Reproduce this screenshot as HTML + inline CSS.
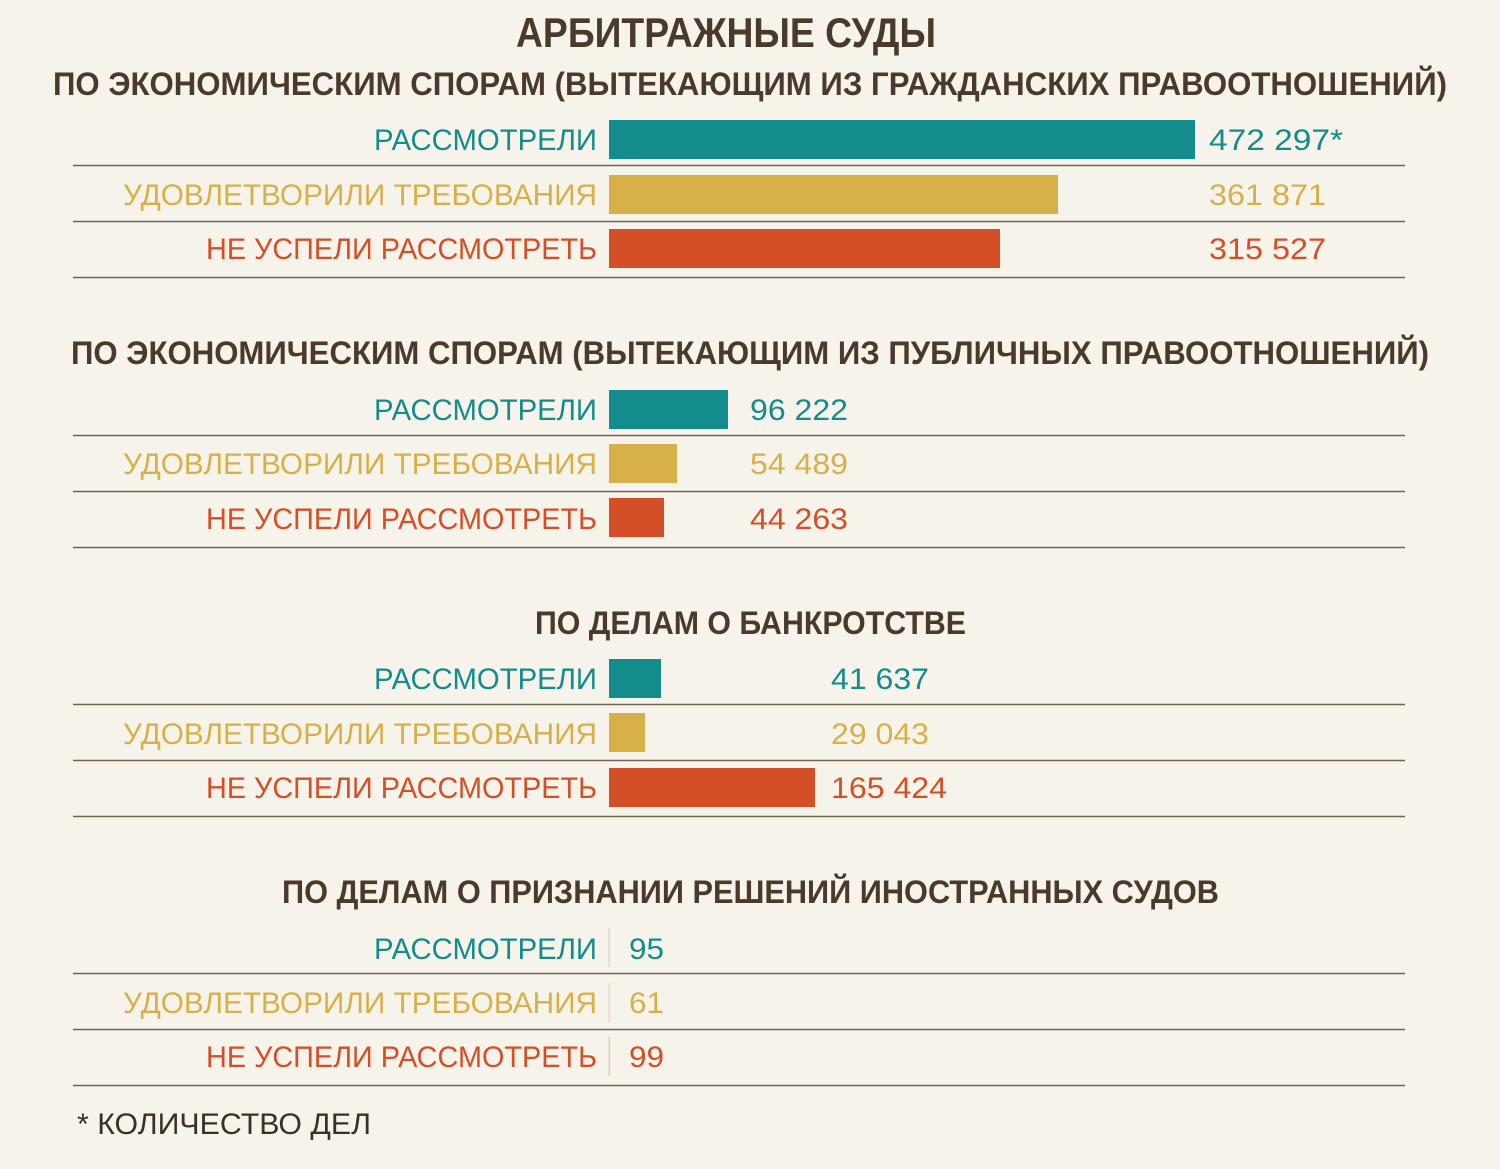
<!DOCTYPE html>
<html><head><meta charset="utf-8"><style>html,body{margin:0;padding:0;background:#f6f3eb}svg{display:block}</style></head><body>
<svg width="1500" height="1169" viewBox="0 0 1500 1169" xmlns="http://www.w3.org/2000/svg" font-family="Liberation Sans, DejaVu Sans, sans-serif">
<rect width="1500" height="1169" fill="#f6f3eb"/>
<g fill="#4a3a2c" font-weight="bold">
<text x="516" y="47" font-size="42" textLength="420" lengthAdjust="spacingAndGlyphs">АРБИТРАЖНЫЕ СУДЫ</text>
<text x="53" y="95" font-size="32" textLength="1394" lengthAdjust="spacingAndGlyphs">ПО ЭКОНОМИЧЕСКИМ СПОРАМ (ВЫТЕКАЮЩИМ ИЗ ГРАЖДАНСКИХ ПРАВООТНОШЕНИЙ)</text>
<text x="71" y="364" font-size="32" textLength="1358" lengthAdjust="spacingAndGlyphs">ПО ЭКОНОМИЧЕСКИМ СПОРАМ (ВЫТЕКАЮЩИМ ИЗ ПУБЛИЧНЫХ ПРАВООТНОШЕНИЙ)</text>
<text x="535" y="634" font-size="32" textLength="431" lengthAdjust="spacingAndGlyphs">ПО ДЕЛАМ О БАНКРОТСТВЕ</text>
<text x="282" y="903" font-size="32" textLength="937" lengthAdjust="spacingAndGlyphs">ПО ДЕЛАМ О ПРИЗНАНИИ РЕШЕНИЙ ИНОСТРАННЫХ СУДОВ</text>
</g>
<text x="77" y="1134" font-size="30" fill="#3a3028" textLength="294" lengthAdjust="spacingAndGlyphs">* КОЛИЧЕСТВО ДЕЛ</text>
<g stroke="#6e6557" stroke-width="1.5">
<line x1="73" y1="165.5" x2="1405" y2="165.5"/><line x1="73" y1="221.5" x2="1405" y2="221.5"/><line x1="73" y1="277.5" x2="1405" y2="277.5"/>
<line x1="73" y1="435.5" x2="1405" y2="435.5"/><line x1="73" y1="491.5" x2="1405" y2="491.5"/><line x1="73" y1="547.5" x2="1405" y2="547.5"/>
<line x1="73" y1="704.5" x2="1405" y2="704.5"/><line x1="73" y1="760.5" x2="1405" y2="760.5"/><line x1="73" y1="816.5" x2="1405" y2="816.5"/>
<line x1="73" y1="973.5" x2="1405" y2="973.5"/><line x1="73" y1="1029.5" x2="1405" y2="1029.5"/><line x1="73" y1="1085.5" x2="1405" y2="1085.5"/>
</g>
<g font-size="30" text-anchor="end">
<g id="lab">
</g>
</g>
<!-- section rows -->
<g font-size="30">
<!-- labels -->
<g text-anchor="end">
<text x="597" y="150" fill="#138c8b" textLength="223" lengthAdjust="spacingAndGlyphs">РАССМОТРЕЛИ</text>
<text x="597" y="205" fill="#d8b04a" textLength="474" lengthAdjust="spacingAndGlyphs">УДОВЛЕТВОРИЛИ ТРЕБОВАНИЯ</text>
<text x="597" y="259" fill="#d44e27" textLength="391" lengthAdjust="spacingAndGlyphs">НЕ УСПЕЛИ РАССМОТРЕТЬ</text>
<text x="597" y="420" fill="#138c8b" textLength="223" lengthAdjust="spacingAndGlyphs">РАССМОТРЕЛИ</text>
<text x="597" y="474" fill="#d8b04a" textLength="474" lengthAdjust="spacingAndGlyphs">УДОВЛЕТВОРИЛИ ТРЕБОВАНИЯ</text>
<text x="597" y="529" fill="#d44e27" textLength="391" lengthAdjust="spacingAndGlyphs">НЕ УСПЕЛИ РАССМОТРЕТЬ</text>
<text x="597" y="689" fill="#138c8b" textLength="223" lengthAdjust="spacingAndGlyphs">РАССМОТРЕЛИ</text>
<text x="597" y="744" fill="#d8b04a" textLength="474" lengthAdjust="spacingAndGlyphs">УДОВЛЕТВОРИЛИ ТРЕБОВАНИЯ</text>
<text x="597" y="798" fill="#d44e27" textLength="391" lengthAdjust="spacingAndGlyphs">НЕ УСПЕЛИ РАССМОТРЕТЬ</text>
<text x="597" y="959" fill="#138c8b" textLength="223" lengthAdjust="spacingAndGlyphs">РАССМОТРЕЛИ</text>
<text x="597" y="1013" fill="#d8b04a" textLength="474" lengthAdjust="spacingAndGlyphs">УДОВЛЕТВОРИЛИ ТРЕБОВАНИЯ</text>
<text x="597" y="1067" fill="#d44e27" textLength="391" lengthAdjust="spacingAndGlyphs">НЕ УСПЕЛИ РАССМОТРЕТЬ</text>
</g>
<!-- bars -->
<rect x="609" y="120" width="586" height="39" fill="#138c8b"/>
<rect x="609" y="175" width="449" height="39" fill="#d8b04a"/>
<rect x="609" y="229" width="391" height="39" fill="#d44e27"/>
<rect x="609" y="390" width="119" height="39" fill="#138c8b"/>
<rect x="609" y="444" width="68" height="39" fill="#d8b04a"/>
<rect x="609" y="498" width="55" height="39" fill="#d44e27"/>
<rect x="609" y="659" width="52" height="39" fill="#138c8b"/>
<rect x="609" y="713" width="36" height="39" fill="#d8b04a"/>
<rect x="609" y="768" width="206" height="39" fill="#d44e27"/>
<rect x="608.5" y="928" width="1.5" height="39" fill="#c9ddd6"/>
<rect x="608.5" y="983" width="1.5" height="39" fill="#e6dbb9"/>
<rect x="608.5" y="1037" width="1.5" height="39" fill="#ecc8b8"/>
<!-- values -->
<text x="1209" y="150" fill="#138c8b" textLength="134" lengthAdjust="spacingAndGlyphs">472 297*</text>
<text x="1209" y="205" fill="#d8b04a" textLength="117" lengthAdjust="spacingAndGlyphs">361 871</text>
<text x="1209" y="259" fill="#d44e27" textLength="117" lengthAdjust="spacingAndGlyphs">315 527</text>
<text x="750" y="420" fill="#138c8b" textLength="98" lengthAdjust="spacingAndGlyphs">96 222</text>
<text x="750" y="474" fill="#d8b04a" textLength="98" lengthAdjust="spacingAndGlyphs">54 489</text>
<text x="750" y="529" fill="#d44e27" textLength="98" lengthAdjust="spacingAndGlyphs">44 263</text>
<text x="831" y="689" fill="#138c8b" textLength="98" lengthAdjust="spacingAndGlyphs">41 637</text>
<text x="831" y="744" fill="#d8b04a" textLength="98" lengthAdjust="spacingAndGlyphs">29 043</text>
<text x="831" y="798" fill="#d44e27" textLength="116" lengthAdjust="spacingAndGlyphs">165 424</text>
<text x="629" y="959" fill="#138c8b" textLength="35" lengthAdjust="spacingAndGlyphs">95</text>
<text x="629" y="1013" fill="#d8b04a" textLength="35" lengthAdjust="spacingAndGlyphs">61</text>
<text x="629" y="1067" fill="#d44e27" textLength="35" lengthAdjust="spacingAndGlyphs">99</text>
</g>
</svg>
</body></html>
